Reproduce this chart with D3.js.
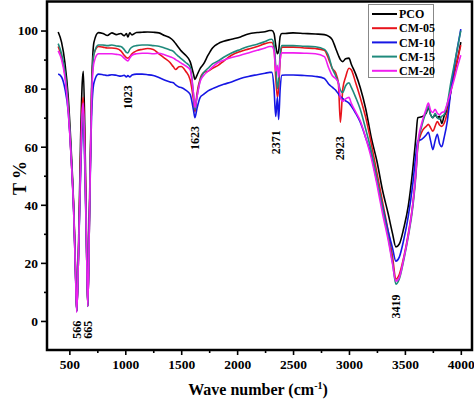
<!DOCTYPE html>
<html><head><meta charset="utf-8">
<script src="https://cdn.jsdelivr.net/npm/d3@7"></script>
<style>
body{margin:0;background:#fff}
svg{display:block}
text{font-family:"Liberation Serif","Times New Roman",serif;font-weight:bold;fill:#000}
</style>
</head><body><div id="chart"></div>
<script>
// ---------- data ----------
const waveNumbers=[400,430,460,490,515,540,555,566,
580,600,615,625,640,655,665,680,700,720,
760,800,840,880,920,960,990,1010,1023,1040,1060,1100,1150,1200,1250,
1300,1350,1400,1430,1450,1480,1500,1540,1580,1610,1623,1640,1670,1700,1740,1780,1830,1880,1950,
2030,2100,2180,2250,2290,2310,2330,2345,2360,2371,2385,2400,
2430,2500,2600,2700,2780,2820,2850,2880,2905,2923,2945,2970,3000,3020,3060,3100,
3150,3200,3250,3300,3350,3390,3419,3450,3490,3530,3570,3600,3615,
3650,3690,3710,3730,3750,3770,3790,3810,3830,3850,3880,3910,3940,3970,4000];

const pco=[99.5,96,89,77,60,38,18,3.5,
22,62,82,86,62,25,5.5,40,82,96,
99.3,99,98.3,99.2,98.6,99,98.2,99,97.8,99.2,98.5,99.3,99.4,99.5,99.4,
99.2,98.3,97.5,96.5,95.5,94,93,91.5,89.3,85,83.2,84.5,87,88.5,91.5,94,95.5,96.3,97,
97.8,98.8,99.3,99.6,100,100,99,95,92,93,98,99,
99,99.2,99,98.8,98.6,98,96.9,94,91.5,90,89.3,90.3,90.5,88.5,85,80.5,
73,63,55,45,37,30,25.5,26.5,32,39.5,52,64,70,
70.3,71.5,73.5,71,70,71,70,70.5,68,70.5,73,79,85,90,96];

const cm05=[94.5,91,85,74,57,37,17,3.3,
20,55,74,77,55,22,5,36,80,92,
94.5,94.3,94,94,93.8,93,91.5,90.7,90.5,91,92,93,93.5,93.8,93.5,
92,90.5,89,87.5,86.6,87.5,87.6,86,83,76,72,78,83.5,85.5,86,87,88,89.5,91.5,
92.8,93.6,94.5,95.5,95.9,95.9,94,84,77,80,90,94.3,
94.3,94.3,94,93.8,93.2,90,87,85.5,82,68.4,80,84,87,86.5,82,77,
70,61,51,41,31,22,14.4,16,22,30,40,52,60,
65,67,67.7,66.5,65.3,67,68.7,67.5,67,68,72,79,85,90,95];

const cm10=[85,84,80,72,57,36,16,3.2,
20,50,66,69,50,22,5,36,72,82,
85,84.8,84.5,84.8,84.6,84.3,84.6,84,84.5,84,84.7,85,85,84.8,84.5,
83.8,83,82.3,82,81.3,80.6,80.4,79.5,78,72.5,70,73,77,78,79.2,80,80.8,81.5,82.3,
83.5,84.2,84.8,85.3,85.6,85.6,80,70.4,77,69.4,80,84.6,
84.7,84.7,84.5,84.2,83.5,81.5,80.5,79.5,78.2,77.3,76.6,75.8,75,74,71.5,68.5,
63,57,48,39.5,31,25,20.6,22,28,36,47,58,62,
62.5,64,65,62,59,62,64.3,61,60,63,69,79,87,94,100.5];

const cm15=[95.5,92,86,74,58,37,17,3.3,
20,52,70,73,52,22,5,36,80,92,
95,95,94.8,95,94.7,94.5,93.5,92.5,92.3,93.5,94.3,94.8,95,95,94.8,
94.6,94,93.3,92.8,92,91,90.3,89,87.5,78,72.8,77,83,85.5,87,88.5,89.5,90.8,92.3,
93.5,94.5,95.3,96.2,96.9,97,95,88,80,83,92,94.8,
94.8,94.8,94.6,94.4,93.5,91,87,84.5,82,79.5,78.7,81,82,80.5,77,73,
66,58.5,49,39,29,20,12.7,14.5,21,29,39,51,60,
67,72,74,71,70,71.5,70,69.5,70.5,71,75,82,88,94,100];

const cm20=[93,90,84,72,57,36,16,3,
20,53,72,75,53,22,5,36,78,89,
92,92,92,92,91.8,91.5,90.5,89.8,89.5,90.5,91.5,92,92.2,92.2,92,
92.2,91.7,91,90.5,90,89.3,88.8,87.8,86.5,78,73.5,77,82.5,84.5,86,87.5,89,89.8,90.7,
91.5,92.3,93.2,94,94.5,94.5,93,86,88,84,90,92.3,
92.3,92.3,92.2,92,91,87,84.5,83.5,82,77,75.6,76.5,77,75,72,69,
63,56,47,37,28,19.5,13.7,15,21.5,29.5,40,52,61,
68,73,75,72.5,71.8,72.9,71.5,71,71.8,72,75,79,83,87.5,91.5];

const seriesNames=["PCO","CM-05","CM-10","CM-15","CM-20"];
const seriesValues=[pco,cm05,cm10,cm15,cm20];
const seriesColors=["#000000","#e8141c","#1616e4","#1f8a7c","#f01ef0"];

const xTickValues=[500,1000,1500,2000,2500,3000,3500,4000];
const xMinorTicks=[750,1250,1750,2250,2750,3250,3750];
const yTickValues=[0,20,40,60,80,100];
const yMinorTicks=[10,30,50,70,90];

const peakLabels=["566","665","1023","1623","2371","2923","3419"];
const peakWave=[566,665,1023,1623,2350,2923,3419];
const peakLabelT=[-3,-3,77,63,61.5,59.5,5];

// ---------- chart ----------
const W=474,H=399;
const svg=d3.select("#chart").append("svg").attr("width",W).attr("height",H);
const x=d3.scaleLinear().domain([300,4100]).range([47,472]);
const y=d3.scaleLinear().domain([-10,110]).range([350,1.5]);

const line=d3.line().x(d=>x(d[0])).y(d=>y(d[1])).curve(d3.curveMonotoneX);

const g=svg.append("g");
seriesValues.forEach((vals,i)=>{
  g.append("path")
    .datum(waveNumbers.map((w,j)=>[w,vals[j]]))
    .attr("fill","none")
    .attr("stroke",seriesColors[i])
    .attr("stroke-width",1.6)
    .attr("stroke-linejoin","round")
    .attr("d",line);
});

// axes
const xAxis=svg.append("g").attr("transform","translate(0,350)")
  .call(d3.axisBottom(x).tickValues(xTickValues).tickSize(5).tickPadding(4).tickFormat(d3.format("d")));
const xMinor=svg.append("g").attr("transform","translate(0,350)")
  .call(d3.axisBottom(x).tickValues(xMinorTicks).tickSize(3).tickFormat(""));
const yAxis=svg.append("g").attr("transform","translate(47,0)")
  .call(d3.axisLeft(y).tickValues(yTickValues).tickSize(6).tickPadding(3).tickFormat(d3.format("d")));
const yMinor=svg.append("g").attr("transform","translate(47,0)")
  .call(d3.axisLeft(y).tickValues(yMinorTicks).tickSize(3).tickFormat(""));
[xAxis,xMinor,yAxis,yMinor].forEach(a=>{
  a.select(".domain").remove();
  a.selectAll("line").attr("stroke","#000").attr("stroke-width",1.6);
  a.selectAll("text").style("font-size","13.5px").style("font-family","'Liberation Serif',serif").style("font-weight","bold").attr("fill","#000");
});

// frame
svg.append("rect").attr("x",47).attr("y",1.5).attr("width",425).attr("height",348.5)
  .attr("fill","none").attr("stroke","#000").attr("stroke-width",2.5);

// peak labels
peakLabels.forEach((t,i)=>{
  const px=x(peakWave[i]), py=y(peakLabelT[i]);
  svg.append("text").attr("transform",`translate(${px+4},${py}) rotate(-90)`)
    .attr("text-anchor","middle").style("font-size","12px").text(t);
});

// axis titles
const xt=svg.append("text").attr("x",258).attr("y",395).attr("text-anchor","middle").style("font-size","16px");
xt.append("tspan").text("Wave number (cm");
xt.append("tspan").attr("dy",-6).style("font-size","10px").text("-1");
xt.append("tspan").attr("dy",6).text(")");

svg.append("text").attr("transform","translate(26,178) rotate(-90)").attr("text-anchor","middle")
  .style("font-size","18px").text("T %");

// legend
const lg=svg.append("g");
lg.append("rect").attr("x",368.5).attr("y",4.5).attr("width",65).attr("height",73)
  .attr("fill","#fff").attr("stroke","#888").attr("stroke-width",1);
seriesNames.forEach((n,i)=>{
  const ly=14+i*14.2;
  lg.append("line").attr("x1",372).attr("x2",397).attr("y1",ly).attr("y2",ly)
    .attr("stroke",seriesColors[i]).attr("stroke-width",2);
  lg.append("text").attr("x",399).attr("y",ly).attr("dy","0.35em").style("font-size","12px").text(n);
});
</script>
</body></html>
